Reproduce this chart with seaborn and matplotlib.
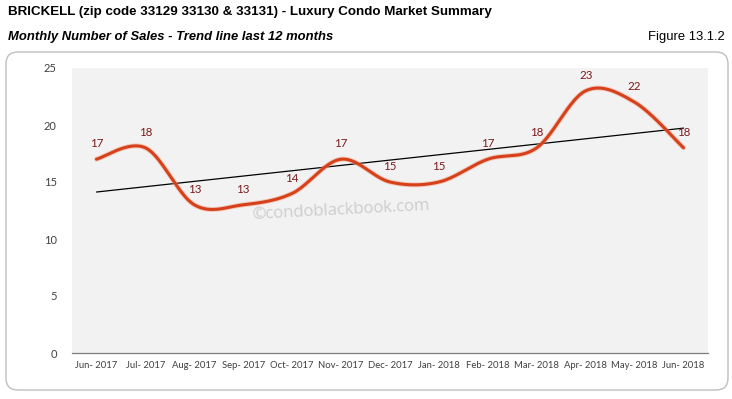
import numpy as np
import pandas as pd
import matplotlib
matplotlib.use("Agg")
import matplotlib.pyplot as plt
from matplotlib.patches import FancyBboxPatch
import seaborn as sns

months = ["Jun- 2017", "Jul- 2017", "Aug- 2017", "Sep- 2017", "Oct- 2017", "Nov- 2017",
          "Dec- 2017", "Jan- 2018", "Feb- 2018", "Mar- 2018", "Apr- 2018", "May- 2018", "Jun- 2018"]
sales = [17, 18, 13, 13, 14, 17, 15, 15, 17, 18, 23, 22, 18]
y_ticks = [0, 5, 10, 15, 20, 25]

title = "BRICKELL (zip code 33129 33130 & 33131) - Luxury Condo Market Summary"
subtitle = "Monthly Number of Sales - Trend line last 12 months"
figure_label = "Figure 13.1.2"
watermark = "\u00a9condoblackbook.com"

sns.set_theme(style="white")
plt.rcParams['font.family'] = ['Lato', 'DejaVu Sans']

W, H = 732, 399
fig = plt.figure(figsize=(W / 100, H / 100), dpi=100)
fig.patch.set_facecolor("white")

# rounded chart frame (pixel coords)
frame = FancyBboxPatch((6, 399 - 390), 722, 338,
                       boxstyle="round,pad=0,rounding_size=12",
                       transform=None, facecolor="none", edgecolor="#BFBFBF", lw=1.0, zorder=0)
fig.patches.append(frame)

ax = fig.add_axes([72 / W, 1 - 353 / H, (708 - 72) / W, (353 - 68) / H])
ax.set_facecolor("#F2F2F2")
ax.set_zorder(2)

df = pd.DataFrame({"month": months, "x": np.arange(len(months)), "sales": sales})

# smooth (Catmull-Rom, as Excel smoothed line) through the data points
def smooth_curve(xv, yv, n=40):
    xv = np.asarray(xv, float); yv = np.asarray(yv, float)
    px = np.concatenate([[xv[0]], xv, [xv[-1]]])
    py = np.concatenate([[yv[0]], yv, [yv[-1]]])
    outx, outy = [], []
    for i in range(1, len(px) - 2):
        p0x, p1x, p2x, p3x = px[i - 1], px[i], px[i + 1], px[i + 2]
        p0y, p1y, p2y, p3y = py[i - 1], py[i], py[i + 1], py[i + 2]
        c1x, c1y = p1x + (p2x - p0x) / 6, p1y + (p2y - p0y) / 6
        c2x, c2y = p2x - (p3x - p1x) / 6, p2y - (p3y - p1y) / 6
        t = np.linspace(0, 1, n, endpoint=(i == len(px) - 3))
        b0, b1, b2, b3 = (1 - t) ** 3, 3 * (1 - t) ** 2 * t, 3 * (1 - t) * t ** 2, t ** 3
        outx.append(b0 * p1x + b1 * c1x + b2 * c2x + b3 * p2x)
        outy.append(b0 * p1y + b1 * c1y + b2 * c2y + b3 * p2y)
    return np.concatenate(outx), np.concatenate(outy)

sx, sy = smooth_curve(df["x"], df["sales"])
smooth_df = pd.DataFrame({"x": sx, "y": sy})

# watermark
ax.text(0.422, 0.5, watermark, transform=ax.transAxes, fontsize=12, color="#CDCDCD",
        rotation=3, ha="center", va="center", family=["Open Sans", "DejaVu Sans"], zorder=1)

# trend line (linear fit)
slope, intercept = np.polyfit(df["x"], df["sales"], 1)
trend_df = pd.DataFrame({"x": df["x"], "y": intercept + slope * df["x"]})
sns.lineplot(data=trend_df, x="x", y="y", ax=ax, color="black", lw=0.9, zorder=2)

# smoothed sales line with soft glow
sns.lineplot(data=smooth_df, x="x", y="y", ax=ax, color="#F29A7A", lw=3.6, alpha=0.45,
             sort=False, zorder=3)
sns.lineplot(data=smooth_df, x="x", y="y", ax=ax, color="#D6401A", lw=2.2,
             sort=False, zorder=4)

for xi, v in zip(df["x"], df["sales"]):
    ax.annotate(str(v), (xi, v), xytext=(0, 11), textcoords="offset points",
                ha="center", va="center", fontsize=8.3, color="#7A1A1A", zorder=5)

ax.set_xlim(-0.5, len(months) - 0.5)
ax.set_ylim(0, 25)
ax.set_yticks(y_ticks)
ax.set_yticklabels([str(t) for t in y_ticks], fontsize=8, color="#404040")
ax.set_xticks(df["x"])
ax.set_xticklabels(months, fontsize=6.8, color="#404040")
ax.set_xticks(np.arange(-0.5, len(months), 1), minor=True)
ax.tick_params(axis="x", which="major", length=0, pad=6)
ax.tick_params(axis="x", which="minor", length=4, width=0.8, color="#7F7F7F", direction="out")
ax.tick_params(axis="y", length=0, pad=11)
ax.set_xlabel("")
ax.set_ylabel("")
for s in ["top", "right", "left"]:
    ax.spines[s].set_visible(False)
ax.spines["bottom"].set_color("#7F7F7F")
ax.spines["bottom"].set_linewidth(0.9)
ax.grid(False)

narrow = ["Liberation Sans", "DejaVu Sans"]
fig.text(8 / W, 1 - 12 / H, title, fontsize=9.6, fontweight="bold", family=narrow,
         ha="left", va="center", color="black")
fig.text(8 / W, 1 - 37 / H, subtitle, fontsize=9.4, fontweight="bold", fontstyle="italic",
         family=narrow, ha="left", va="center", color="black")
fig.text(725 / W, 1 - 37 / H, figure_label, fontsize=9.4, family=narrow,
         ha="right", va="center", color="black")

fig.savefig("out.png", dpi=100, facecolor="white")
